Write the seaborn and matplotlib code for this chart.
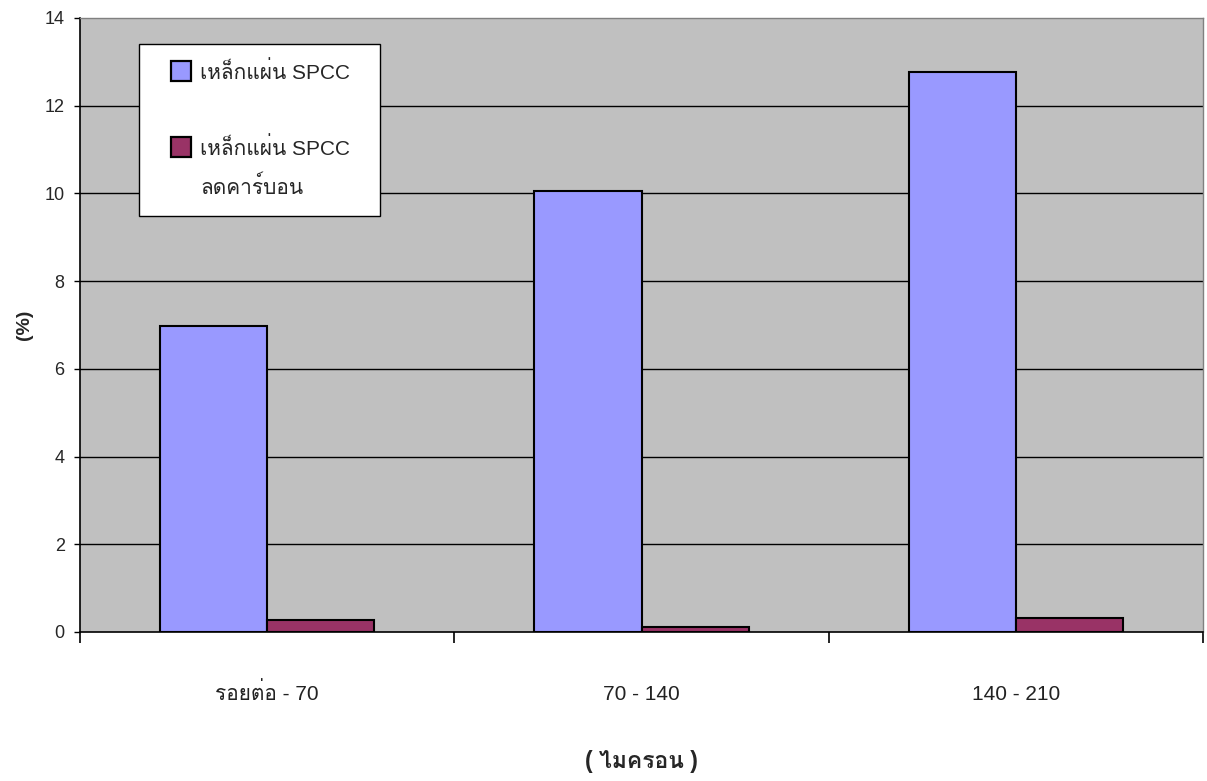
import numpy as np
import pandas as pd
import matplotlib
matplotlib.use("Agg")
import matplotlib.pyplot as plt
import seaborn as sns
from matplotlib import font_manager
from matplotlib.ft2font import FT2Font
from matplotlib.lines import Line2D

# Chart data
categories = ["รอยต่อ - 70", "70 - 140", "140 - 210"]
series_names = ["เหล็กแผ่น SPCC", "เหล็กแผ่น SPCC\nลดคาร์บอน"]
spcc_values = [6.97, 10.05, 12.77]
decarb_values = [0.28, 0.12, 0.33]
y_ticks = [0, 2, 4, 6, 8, 10, 12, 14]
x_label = "( ไมครอน )"
y_label = "(%)"
bar_colors = ["#9999FF", "#993366"]


def thai_family():
    """Return the name of an installed font that has Thai glyphs."""
    for f in font_manager.fontManager.ttflist:
        try:
            if 0x0E2B in FT2Font(f.fname).get_charmap():
                return f.name
        except Exception:
            continue
    return None


sns.set_theme(style="white")
families = ["Liberation Sans"]
tf = thai_family()
if tf:
    families.append(tf)
families.append("DejaVu Sans")
plt.rcParams["font.family"] = families

df = pd.DataFrame({
    "category": categories * 2,
    "series": [series_names[0]] * 3 + [series_names[1]] * 3,
    "value": spcc_values + decarb_values,
})

fig = plt.figure(figsize=(12.07, 7.81), dpi=100)
ax = fig.add_axes([0.0663, 0.1908, 0.9304, 0.7862])
ax.set_facecolor("#C0C0C0")

sns.barplot(data=df, x="category", y="value", hue="series", order=categories,
            hue_order=series_names, palette=bar_colors, saturation=1,
            width=0.572, edgecolor="black", linewidth=1.5, ax=ax,
            errorbar=None, zorder=3, legend=False)

ax.set_xlim(-0.5, 2.5)
ax.set_ylim(0, 14)
ax.set_yticks(y_ticks)
ax.set_yticklabels([str(t) for t in y_ticks], fontsize=13)
for t in y_ticks[1:-1]:
    ax.axhline(t, color="black", linewidth=1.0, zorder=1)

# Category boundary ticks below the axis, labels centred between them
ax.set_xticks([-0.5, 0.5, 1.5, 2.5])
ax.set_xticklabels([])
ax.set_xticks([0, 1, 2], minor=True)
ax.set_xticklabels(categories, minor=True, fontsize=15, color="#222222",
                   va="baseline")
ax.tick_params(axis="x", which="major", direction="out", length=8, width=1.2,
               color="black", bottom=True)
ax.tick_params(axis="x", which="minor", length=0, pad=49)
ax.tick_params(axis="y", direction="out", length=4, width=1, color="black",
               left=True, pad=7)

for side in ["left", "bottom"]:
    ax.spines[side].set_color("black")
    ax.spines[side].set_linewidth(1.2)
for side in ["top", "right"]:
    ax.spines[side].set_color("#808080")
    ax.spines[side].set_linewidth(1.0)

ax.set_xlabel(x_label, fontsize=16.5, fontweight="bold")
ax.xaxis.set_label_coords(0.5, -0.192)
ax.set_ylabel(y_label, fontsize=14, fontweight="bold")
ax.yaxis.set_label_coords(-0.0419, 0.5)

# Legend: square swatches, the second name wrapped onto a second line
handles = []
labels = []
blank = Line2D([], [], linestyle="none", marker=None)
for i, (name, color) in enumerate(zip(series_names, bar_colors)):
    parts = name.split("\n")
    if i > 0:
        handles.append(blank)
        labels.append(" ")
    handles.append(Line2D([], [], linestyle="none", marker="s",
                          markersize=15, markerfacecolor=color,
                          markeredgecolor="black", markeredgewidth=1.6))
    labels.append(parts[0])
    for extra in parts[1:]:
        handles.append(blank)
        labels.append(extra)

leg = ax.legend(handles, labels, loc="upper left",
                bbox_to_anchor=(0.0525, 0.948, 0.2146, 0.01), mode="expand",
                frameon=True, fancybox=False, edgecolor="black",
                facecolor="white", framealpha=1, fontsize=15,
                labelspacing=0.8, handlelength=2.38, handleheight=1.0,
                handletextpad=-0.3, borderpad=0.85, borderaxespad=0)
leg.get_frame().set_linewidth(1.0)
leg.set_zorder(5)

fig.savefig("out.png", dpi=100)
